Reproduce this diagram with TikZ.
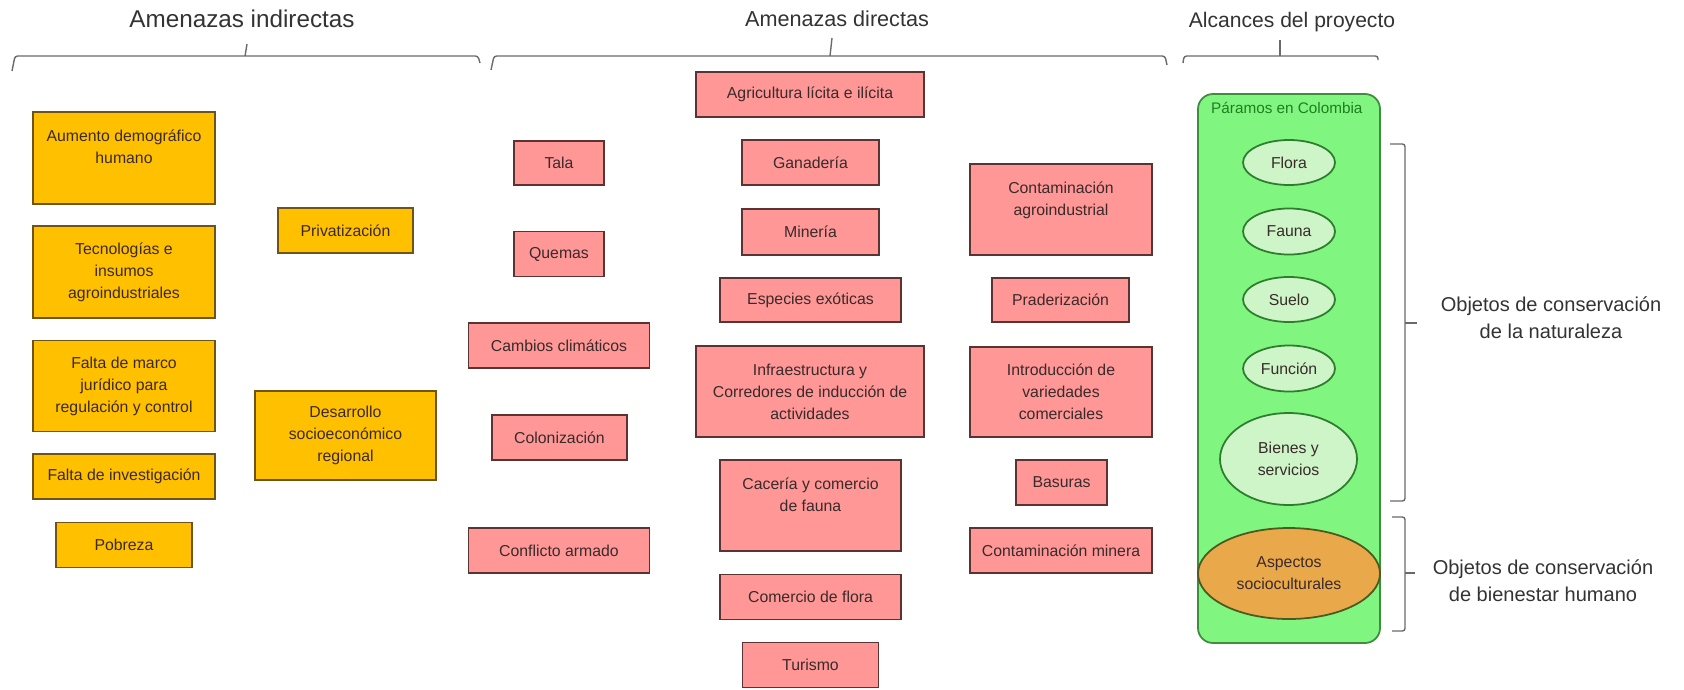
\documentclass[tikz,border=0pt]{standalone}
\usepackage{fontspec}
\setmainfont{Liberation Sans}
\usepackage{tikz}
\usetikzlibrary{shapes.geometric}

\definecolor{amber}{HTML}{FFC000}
\definecolor{amberline}{HTML}{6E5417}
\definecolor{salmon}{HTML}{FF9797}
\definecolor{salmonline}{HTML}{5C3333}
\definecolor{paramosgreen}{HTML}{80F580}
\definecolor{paramosline}{HTML}{3E8E3E}
\definecolor{ovalfill}{HTML}{CDF5C8}
\definecolor{ovalline}{HTML}{2E7D2E}
\definecolor{socialfill}{HTML}{E9A94A}
\definecolor{socialline}{HTML}{4A5A20}
\definecolor{boxtext}{HTML}{3A2A2A}
\definecolor{headtext}{HTML}{333333}
\definecolor{braceline}{HTML}{6A6A6A}
\definecolor{paramostext}{HTML}{1F7F1F}

\begin{document}
\begin{tikzpicture}[x=0.2mm,y=-0.2mm,
                    indirect/.style={draw=amberline,fill=amber,line width=1pt,align=center,
                                     text=boxtext,font=\fontsize{9}{12.5}\selectfont},
                    direct/.style={draw=salmonline,fill=salmon,line width=1pt,align=center,
                                   text=boxtext,font=\fontsize{9}{12.5}\selectfont},
                    target/.style={ellipse,draw=ovalline,fill=ovalfill,line width=1pt,align=center,
                                   inner sep=0pt,text=boxtext,font=\fontsize{9}{12.5}\selectfont},
                    heading/.style={text=headtext,align=center},
                    brace/.style={draw=braceline,line width=0.8pt,rounded corners=1.5pt}]
  \useasboundingbox (0,0) rectangle (1684,689);

  % Headings and brackets
  \node[heading,font=\fontsize{13.8}{16}\selectfont] (tindirect) at (242,19) {Amenazas indirectas};
  \node[heading,font=\fontsize{12.3}{15}\selectfont] (tdirect) at (837,19) {Amenazas directas};
  \node[heading,font=\fontsize{12}{15}\selectfont] (tscope) at (1292,22) {Alcances del proyecto};
  \draw[brace] (12,71) -- (15,56) -- (478,56) -- (480,63);
  \draw[brace] (245,56) -- (247,44);
  \draw[brace] (491,70) -- (494,56) -- (1165,56) -- (1167,65);
  \draw[brace] (830,56) -- (832,38);
  \draw[brace] (1183,63) -- (1184,56) -- (1378,56) -- (1378,60);
  \draw[brace] (1280,56) -- (1280,40);

  % Indirect threats
  \begin{scope}[every node/.append style={indirect}]
    \node[minimum width=36.4mm,minimum height=18.4mm] (aumento) at (124,158) {Aumento demográfico\\humano\\ ~};
    \node[minimum width=36.4mm,minimum height=18.4mm] (tecno) at (124,272) {Tecnologías e\\insumos\\agroindustriales};
    \node[minimum width=36.4mm,minimum height=18.2mm] (marco) at (124,386) {Falta de marco\\jurídico para\\regulación y control};
    \node[minimum width=36.4mm,minimum height=9mm] (investigacion) at (124,476.5) {Falta de investigación};
    \node[minimum width=27.2mm,minimum height=9mm] (pobreza) at (124,545) {Pobreza};
    \node[minimum width=27mm,minimum height=9mm] (privatizacion) at (345.5,230.5) {Privatización};
    \node[minimum width=36.2mm,minimum height=17.8mm] (desarrollo) at (345.5,435.5) {Desarrollo\\socioeconómico\\regional};
  \end{scope}

  % Direct threats
  \begin{scope}[every node/.append style={direct}]
    \node[minimum width=18mm,minimum height=8.8mm] (tala) at (559,163) {Tala};
    \node[minimum width=18mm,minimum height=9mm] (quemas) at (559,254) {Quemas};
    \node[minimum width=36.2mm,minimum height=9mm] (cambios) at (559,345.5) {Cambios climáticos};
    \node[minimum width=27mm,minimum height=9mm] (colonizacion) at (559.5,437.5) {Colonización};
    \node[minimum width=36.2mm,minimum height=9mm] (conflicto) at (559,550.5) {Conflicto armado};

    \node[minimum width=45.6mm,minimum height=9mm] (agricultura) at (810,94.5) {Agricultura lícita e ilícita};
    \node[minimum width=27.4mm,minimum height=9mm] (ganaderia) at (810.5,162.5) {Ganadería};
    \node[minimum width=27.4mm,minimum height=9.2mm] (mineria) at (810.5,232) {Minería};
    \node[minimum width=36.2mm,minimum height=8.8mm] (especies) at (810.5,300) {Especies exóticas};
    \node[minimum width=45.6mm,minimum height=18.2mm] (infraestructura) at (810,391.5) {Infraestructura y\\Corredores de inducción de\\actividades};
    \node[minimum width=36.2mm,minimum height=18.2mm] (caceria) at (810.5,505.5) {Cacería y comercio\\de fauna\\ ~};
    \node[minimum width=36.2mm,minimum height=9mm] (comercioflora) at (810.5,597) {Comercio de flora};
    \node[minimum width=27.2mm,minimum height=9mm] (turismo) at (810.5,665) {Turismo};

    \node[minimum width=36.4mm,minimum height=18.2mm] (contagro) at (1061,209.5) {Contaminación\\agroindustrial\\ ~};
    \node[minimum width=27.4mm,minimum height=8.8mm] (praderizacion) at (1060.5,300) {Praderización};
    \node[minimum width=36.4mm,minimum height=18mm] (introduccion) at (1061,392) {Introducción de\\variedades\\comerciales};
    \node[minimum width=18.2mm,minimum height=9mm] (basuras) at (1061.5,482.5) {Basuras};
    \node[minimum width=36.4mm,minimum height=9mm] (contminera) at (1061,550.5) {Contaminación minera};
  \end{scope}

  % Project scope
  \node[draw=paramosline,fill=paramosgreen,line width=1pt,rounded corners=3mm,
        minimum width=36.4mm,minimum height=109.8mm] (paramos) at (1289,368.5) {};
  \node[anchor=west,text=paramostext,font=\fontsize{8.7}{10}\selectfont] (paramoslabel) at (1205,108) {Páramos en Colombia};
  \node[target,minimum width=18.4mm,minimum height=9mm] (flora) at (1289,162.5) {Flora};
  \node[target,minimum width=18.4mm,minimum height=9.2mm] (fauna) at (1289,231.5) {Fauna};
  \node[target,minimum width=18.4mm,minimum height=9mm] (suelo) at (1289,299.5) {Suelo};
  \node[target,minimum width=18.4mm,minimum height=9.2mm] (funcion) at (1289,368.5) {Función};
  \node[target,minimum width=27.4mm,minimum height=18.4mm] (bienes) at (1288.5,459) {Bienes y\\servicios};
  \node[target,draw=socialline,fill=socialfill,minimum width=36.4mm,minimum height=18.2mm] (aspectos) at (1289,573.5) {Aspectos\\socioculturales};

  % Conservation objects
  \draw[brace] (1390,144) -- (1405,144) -- (1405,501) -- (1390,501);
  \draw[brace] (1405,323) -- (1417,323);
  \draw[brace] (1392,517) -- (1405,517) -- (1405,631) -- (1392,631);
  \draw[brace] (1405,573) -- (1415,573);
  \node[heading,font=\fontsize{11.4}{15.3}\selectfont] (nature) at (1551,318) {Objetos de conservación\\de la naturaleza};
  \node[heading,font=\fontsize{11.4}{15.3}\selectfont] (wellbeing) at (1543,581) {Objetos de conservación\\de bienestar humano};
\end{tikzpicture}
\end{document}
